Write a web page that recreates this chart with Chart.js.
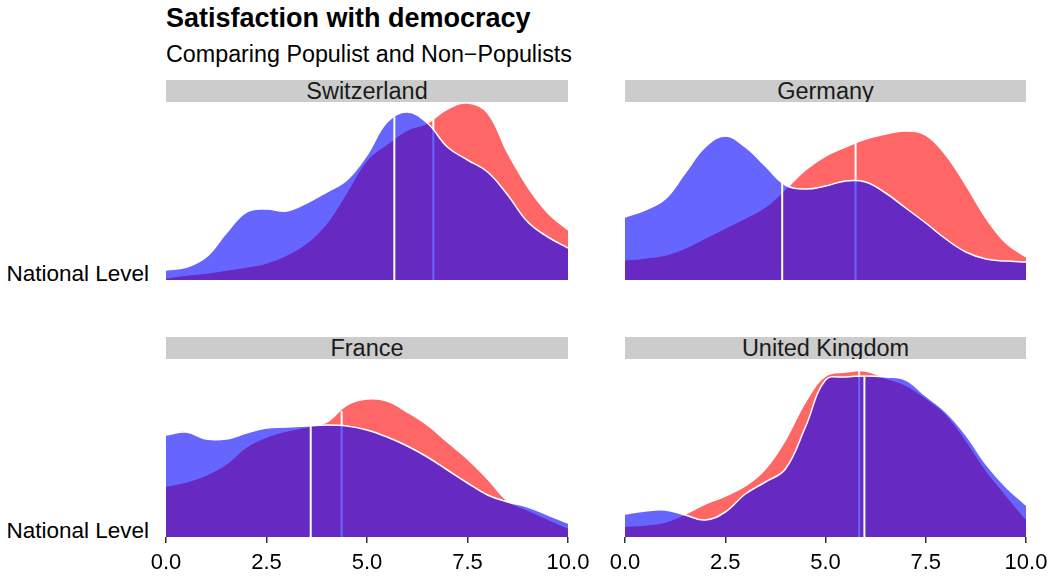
<!DOCTYPE html>
<html>
<head>
<meta charset="utf-8">
<script src="https://cdn.jsdelivr.net/npm/chart.js@4/dist/chart.umd.min.js"></script>
<style>
    body { margin: 0; background: #fff; font-family: "Liberation Sans", Arial, Helvetica, sans-serif; }
    #page { position: relative; width: 1061px; height: 576px; overflow: hidden; }
    .txt { position: absolute; white-space: nowrap; color: #000; }
    .strip { position: absolute; background: #cccccc; overflow: hidden; text-align: center;
             font-size: 23.5px; line-height: 22px; color: #1a1a1a; }
    canvas { position: absolute; }
</style>
</head>
<body>
<div id="page">
    <div class="txt" style="left:166px; top:5px; font-size:27px; line-height:27px; font-weight:bold;">Satisfaction with democracy</div>
    <div class="txt" style="left:166px; top:43px; font-size:23.3px; line-height:23px;">Comparing Populist and Non&minus;Populists</div>
    <div class="txt" style="right:912px; top:263px; font-size:22.5px; line-height:22px;">National Level</div>
    <div class="txt" style="right:912px; top:520px; font-size:22.5px; line-height:22px;">National Level</div>
</div>
<script>
// values, density heights in plot units (0 = baseline, 179 = top of panel)
const xGrid = [0, 0.5, 1, 1.5, 2, 2.5, 3, 3.5, 4, 4.5, 5, 5.5, 6, 6.5, 7, 7.5, 8, 8.5, 9, 9.5, 10];
const countries = ["Switzerland", "Germany", "France", "United Kingdom"];
const xTicks = [0, 2.5, 5, 7.5, 10];

const switzerlandBlue = [10, 12.7, 23, 47, 68, 71, 69, 77, 88, 100, 125, 158, 168, 157, 133, 120, 108, 85, 58, 43, 32];
const switzerlandRed  = [2, 5, 7, 10, 13, 17, 25, 37, 57, 88, 120, 136, 150, 157, 171, 177, 167, 127, 93, 67, 50];
const germanyBlue     = [63, 70, 81, 107, 133, 144, 133, 114, 95, 91, 94, 99, 98, 87, 72, 57, 41, 28, 21, 19, 18];
const germanyRed      = [20, 22, 25, 32, 42, 52, 62, 73, 91, 110, 124, 133, 141, 146, 149, 145, 125, 95, 62, 37, 23];
const franceBlue      = [102, 105, 98, 98, 104, 109, 110, 111, 112, 111, 107, 100, 91, 80, 67, 54, 42, 35, 30, 22, 14];
const franceRed       = [51, 55, 62, 73, 90, 100, 106, 110, 115, 132, 138, 136, 125, 112, 95, 78, 58, 36, 27, 18, 9];
const ukBlue          = [23, 26, 27, 22, 17, 25, 43, 55, 68, 110, 157, 160, 161, 160, 157, 141, 125, 102, 73, 50, 32];
const ukRed           = [11, 12, 15, 23, 33, 41, 51, 68, 97, 135, 161, 165, 166, 159, 152, 139, 123, 97, 67, 42, 18];

const blueMeans       = [5.68, 3.92, 3.6, 5.97];
const blueMeanHeights = [163, 98, 112, 161];
const redMeans        = [6.65, 5.75, 4.37, 5.84];
const redMeanHeights  = [163, 137, 126, 167];

const blueSeries = [switzerlandBlue, germanyBlue, franceBlue, ukBlue];
const redSeries  = [switzerlandRed, germanyRed, franceRed, ukRed];

const FONT = '"Liberation Sans", Arial, Helvetica, sans-serif';
const page = document.getElementById("page");

// panel geometry: plot area left/width, strip top
const panels = [
    { left: 166, width: 402, stripTop: 80, axis: false },
    { left: 625, width: 401, stripTop: 80, axis: false },
    { left: 166, width: 402, stripTop: 337, axis: true },
    { left: 625, width: 401, stripTop: 337, axis: true },
];

function toPoints(values) {
    return xGrid.map((x, i) => ({ x: x, y: values[i] }));
}

function buildPanel(idx) {
    const p = panels[idx];

    const strip = document.createElement("div");
    strip.className = "strip";
    strip.style.left = p.left + "px";
    strip.style.top = p.stripTop + "px";
    strip.style.width = p.width + "px";
    strip.style.height = "21.5px";
    strip.textContent = countries[idx];
    page.appendChild(strip);

    // room for the end tick labels on the bottom row
    const pad = p.axis ? 30 : 0;
    const canvas = document.createElement("canvas");
    canvas.width = p.width + 2 * pad;
    canvas.height = p.axis ? 219 : 179;
    canvas.style.left = (p.left - pad) + "px";
    canvas.style.top = (p.stripTop + 21) + "px";
    page.appendChild(canvas);

    new Chart(canvas, {
        type: "line",
        data: {
            datasets: [
                {
                    // blue mean line, on top of everything
                    data: [{ x: blueMeans[idx], y: 0 }, { x: blueMeans[idx], y: blueMeanHeights[idx] }],
                    borderColor: "#ffffff",
                    borderWidth: 2,
                    pointRadius: 0,
                    fill: false,
                    order: 0,
                },
                {
                    data: toPoints(blueSeries[idx]),
                    borderColor: "#ffffff",
                    borderWidth: 1.5,
                    backgroundColor: "rgba(0, 0, 255, 0.6)",
                    fill: "origin",
                    pointRadius: 0,
                    tension: 0.4,
                    order: 1,
                },
                {
                    // red mean line, sits under the blue fill
                    data: [{ x: redMeans[idx], y: 0 }, { x: redMeans[idx], y: redMeanHeights[idx] }],
                    borderColor: "#ffffff",
                    borderWidth: 2,
                    pointRadius: 0,
                    fill: false,
                    order: 2,
                },
                {
                    data: toPoints(redSeries[idx]),
                    borderColor: "#ffffff",
                    borderWidth: 1.5,
                    backgroundColor: "rgba(255, 0, 0, 0.6)",
                    fill: "origin",
                    pointRadius: 0,
                    tension: 0.4,
                    order: 3,
                },
            ],
        },
        options: {
            responsive: false,
            animation: false,
            devicePixelRatio: 1,
            layout: { padding: { left: pad, right: pad, top: 0, bottom: 0 } },
            plugins: {
                legend: { display: false },
                tooltip: { enabled: false },
                title: { display: false },
            },
            scales: {
                x: {
                    type: "linear",
                    min: 0,
                    max: 10,
                    display: p.axis,
                    afterBuildTicks: (scale) => {
                        scale.ticks = xTicks.map((v) => ({ value: v }));
                    },
                    afterFit: (scale) => {
                        if (p.axis) scale.height = 40;
                    },
                    ticks: {
                        callback: (v) => Number(v).toFixed(1),
                        color: "#000000",
                        font: { family: FONT, size: 22 },
                        padding: 7,
                        maxRotation: 0,
                        autoSkip: false,
                    },
                    grid: {
                        display: true,
                        drawOnChartArea: false,
                        drawTicks: true,
                        tickLength: 6,
                        color: "#333333",
                        lineWidth: 1.5,
                    },
                    border: { display: false },
                },
                y: {
                    type: "linear",
                    min: 0,
                    max: 179,
                    display: false,
                },
            },
        },
    });
}

countries.forEach((_, i) => buildPanel(i));
</script>
</body>
</html>
